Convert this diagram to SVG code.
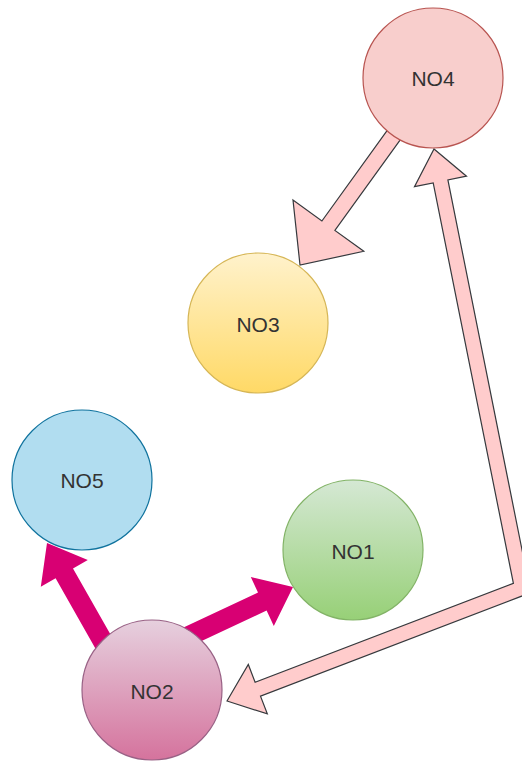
<svg xmlns="http://www.w3.org/2000/svg" width="522" height="764" viewBox="0 0 522 764">
  <defs>
    <linearGradient id="gYellow" x1="0" y1="0" x2="0" y2="1">
      <stop offset="0" stop-color="#fff2cc"/>
      <stop offset="1" stop-color="#ffd966"/>
    </linearGradient>
    <linearGradient id="gGreen" x1="0" y1="0" x2="0" y2="1">
      <stop offset="0" stop-color="#d5e8d4"/>
      <stop offset="1" stop-color="#97d077"/>
    </linearGradient>
    <linearGradient id="gPink" x1="0" y1="0" x2="0" y2="1">
      <stop offset="0" stop-color="#e6d0de"/>
      <stop offset="1" stop-color="#d5739d"/>
    </linearGradient>
  </defs>
  <style>
    .flex-light { fill: #ffcccc; stroke: #36393d; stroke-width: 1.2; stroke-linejoin: miter; }
    .flex-strong { fill: #d80073; stroke: none; }
    .node circle { stroke-width: 1.2; }
    .node text { font-family: "Liberation Sans", Arial, sans-serif; font-size: 21px; fill: #333333; text-anchor: middle; }
  </style>

  <!-- connectors (drawn beneath the nodes) -->
  <g id="connectors">
    <!-- NO4 -> NO3 -->
    <polygon id="e-no4-no3" class="flex-light" points="406,131.8 334.9,230.4 363.8,251.3 300,265 293,200.1 321.9,221 393,122.4"/>
    <!-- NO2 <-> NO4, bent at the right edge -->
    <polygon id="e-no2-no4" class="flex-light" points="227,701 248.3,664.5 255.1,682.2 513.4,583.3 433.2,182.9 414.5,186.6 434,149 466.5,176.2 447.9,179.9 530.6,592.7 260.5,696.2 267.3,713.9"/>
    <!-- NO2 -> NO5 -->
    <polygon id="e-no2-no5" class="flex-strong" points="119.9,651.1 73,568.5 87.8,560.1 47,543 40.8,586.7 55.6,578.3 102.5,660.9"/>
    <!-- NO2 -> NO1 -->
    <polygon id="e-no2-no1" class="flex-strong" points="170.7,655.6 266.6,610.5 273.8,625.9 293,587 250.8,577.1 258,592.5 162.1,637.6"/>
  </g>

  <g id="NO4" class="node">
    <circle cx="433" cy="78" r="70" fill="#f8cecc" stroke="#b85450"/>
    <text x="433" y="85.5">NO4</text>
  </g>
  <g id="NO3" class="node">
    <circle cx="258" cy="323" r="70" fill="url(#gYellow)" stroke="#d6b656"/>
    <text x="258" y="332">NO3</text>
  </g>
  <g id="NO5" class="node">
    <circle cx="82" cy="480" r="70" fill="#b1ddf0" stroke="#10739e"/>
    <text x="82" y="488">NO5</text>
  </g>
  <g id="NO1" class="node">
    <circle cx="353" cy="550" r="70" fill="url(#gGreen)" stroke="#82b366"/>
    <text x="353" y="558.5">NO1</text>
  </g>
  <g id="NO2" class="node">
    <circle cx="152" cy="690" r="70" fill="url(#gPink)" stroke="#996185"/>
    <text x="152" y="698.5">NO2</text>
  </g>
</svg>
